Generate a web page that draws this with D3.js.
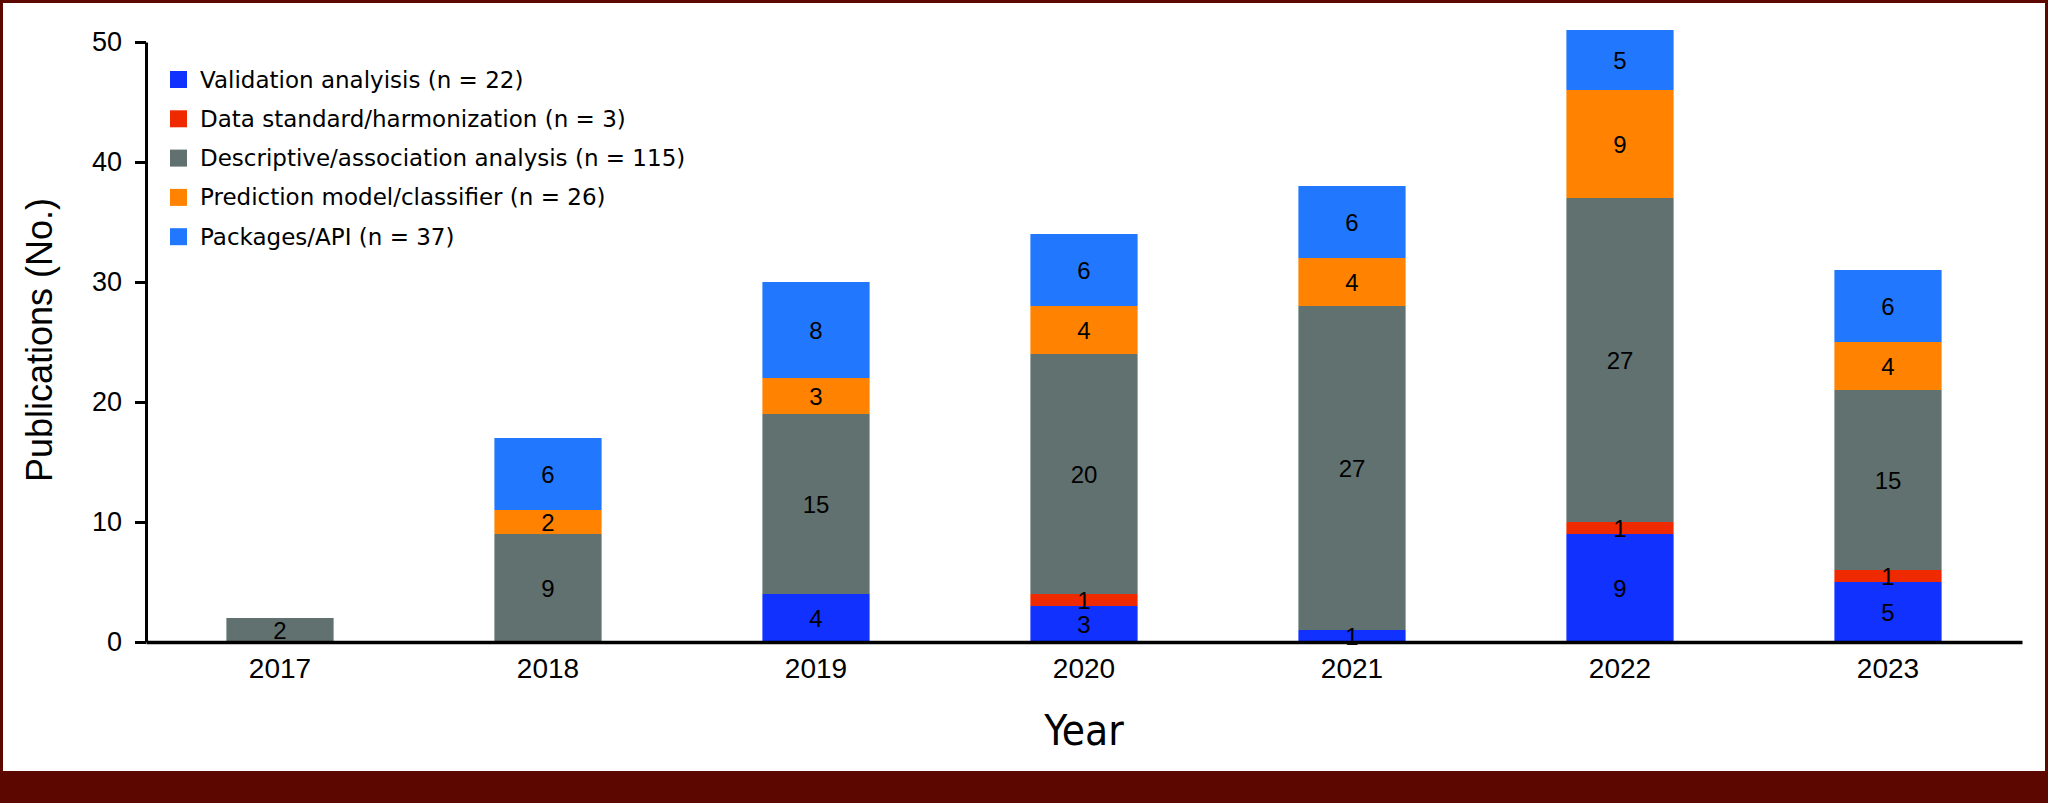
<!DOCTYPE html>
<html>
<head>
<meta charset="utf-8">
<script src="https://cdn.jsdelivr.net/npm/d3@7"></script>
<style>
  body { margin: 0; background: #fff; }
  svg { display: block; }
  .tick text { font-family: "Liberation Sans", Arial, sans-serif; fill: #000; }
</style>
</head>
<body>
<svg width="2048" height="803"></svg>
<script>
// ---- data ----
var years = ["2017", "2018", "2019", "2020", "2021", "2022", "2023"];
var seriesNames = [
    "Validation analyisis (n = 22)",
    "Data standard/harmonization (n = 3)",
    "Descriptive/association analysis (n = 115)",
    "Prediction model/classifier (n = 26)",
    "Packages/API (n = 37)"
];
var validation  = [0, 0, 4, 3, 1, 9, 5];
var dataStd     = [0, 0, 0, 1, 0, 1, 1];
var descriptive = [2, 9, 15, 20, 27, 27, 15];
var prediction  = [0, 2, 3, 4, 4, 9, 4];
var packages    = [0, 6, 8, 6, 6, 5, 6];
var yTicks = [0, 10, 20, 30, 40, 50];
var colors = ["#1131ff", "#f02a00", "#607170", "#ff8300", "#2178ff"];

var keys = ["validation", "dataStd", "descriptive", "prediction", "packages"];
var table = years.map(function (yr, i) {
    return {
        year: yr,
        validation: validation[i],
        dataStd: dataStd[i],
        descriptive: descriptive[i],
        prediction: prediction[i],
        packages: packages[i]
    };
});

var svg = d3.select("svg"),
    width = +svg.attr("width"),
    height = +svg.attr("height");

// frame: dark red border and bottom band
svg.append("rect").attr("width", width).attr("height", height).attr("fill", "#5c0700");
svg.append("rect").attr("x", 3).attr("y", 3).attr("width", 2042).attr("height", 768).attr("fill", "#fff");

var x = d3.scaleBand()
    .domain(years)
    .range([146, 2022])
    .paddingInner(0.6)
    .paddingOuter(0.3);

var y = d3.scaleLinear()
    .domain([0, 50])
    .range([642, 42]);

var color = d3.scaleOrdinal().domain(keys).range(colors);

var stack = d3.stack().keys(keys);
var layers = stack(table);

// ---- bars ----
var layer = svg.append("g").selectAll("g")
    .data(layers)
    .enter().append("g")
    .attr("fill", function (d) { return color(d.key); });

layer.selectAll("rect")
    .data(function (d) { return d; })
    .enter().append("rect")
    .attr("x", function (d) { return x(d.data.year); })
    .attr("width", x.bandwidth())
    .attr("y", function (d) { return y(d[1]); })
    .attr("height", function (d) { return y(d[0]) - y(d[1]); });

// ---- segment labels ----
var labels = svg.append("g")
    .attr("font-family", "'Liberation Sans', Arial, sans-serif")
    .attr("font-size", 24)
    .attr("text-anchor", "middle");

layers.forEach(function (l) {
    l.forEach(function (d) {
        var v = d[1] - d[0];
        if (v <= 0) return;
        labels.append("text")
            .attr("x", x(d.data.year) + x.bandwidth() / 2)
            .attr("y", (y(d[0]) + y(d[1])) / 2)
            .attr("dy", "0.36em")
            .text(v);
    });
});

// ---- axes ----
var yAxis = svg.append("g")
    .attr("transform", "translate(146,0)")
    .call(d3.axisLeft(y).tickValues(yTicks).tickSize(11).tickSizeOuter(0).tickPadding(13));
yAxis.select(".domain").attr("stroke-width", 3);
yAxis.selectAll(".tick line").attr("stroke-width", 3);
yAxis.selectAll(".tick text").attr("font-size", 27);

var xAxis = svg.append("g")
    .attr("transform", "translate(0,642)")
    .call(d3.axisBottom(x).tickSize(0).tickSizeOuter(0).tickPadding(16));
xAxis.select(".domain").attr("stroke-width", 3.5);
xAxis.selectAll(".tick text").attr("font-size", 28);

// axis titles
svg.append("text")
    .attr("transform", "translate(52,340) rotate(-90)")
    .attr("text-anchor", "middle")
    .attr("font-family", "'Liberation Sans', Arial, sans-serif")
    .attr("font-size", 36)
    .text("Publications (No.)");

svg.append("text")
    .attr("x", 1084)
    .attr("y", 745)
    .attr("text-anchor", "middle")
    .attr("font-family", "'Liberation Sans Narrow', 'DejaVu Sans Condensed', sans-serif")
    .attr("font-size", 42)
    .text("Year");

// ---- legend ----
var legend = svg.append("g").selectAll("g")
    .data(seriesNames)
    .enter().append("g")
    .attr("transform", function (d, i) { return "translate(170," + (71 + i * 39.3) + ")"; });

legend.append("rect")
    .attr("width", 17)
    .attr("height", 17)
    .attr("fill", function (d, i) { return colors[i]; });

legend.append("text")
    .attr("x", 30)
    .attr("y", 16.5)
    .attr("font-family", "'DejaVu Sans', sans-serif")
    .attr("font-size", 23)
    .text(function (d) { return d; });
</script>
</body>
</html>
